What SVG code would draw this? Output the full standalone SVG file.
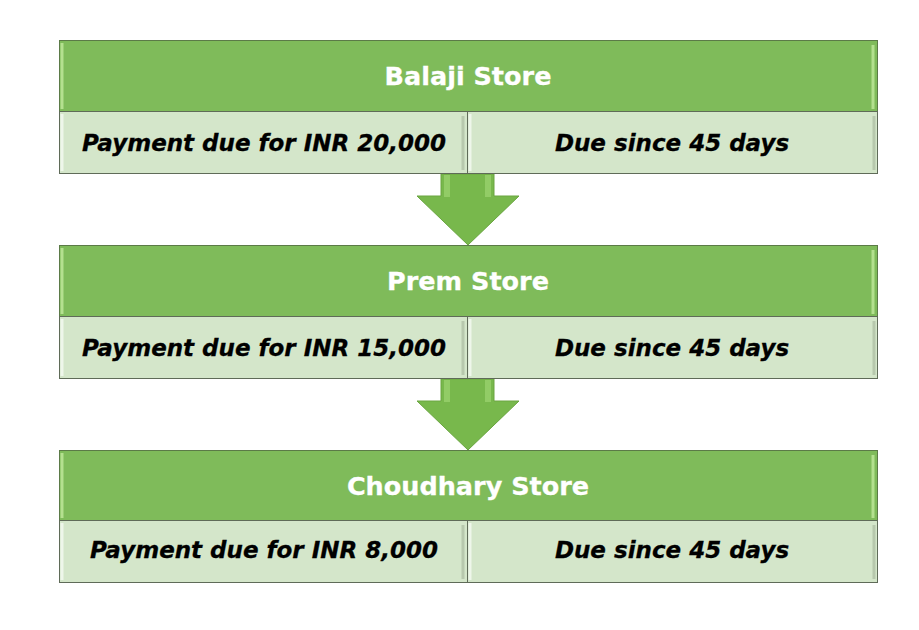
<svg xmlns="http://www.w3.org/2000/svg" width="919" height="630" viewBox="0 0 919 630">
<style>
.hdr{fill:#7fbb5a;stroke:#5b7a47;stroke-width:1}
.cell{fill:#d4e6ca;stroke:#5f6b58;stroke-width:1}
.hl{fill:none;stroke:#b4e08f;stroke-width:3}
.chl{fill:none;stroke:#eef6ea;stroke-width:3}
.csh{fill:none;stroke:#b7c8ad;stroke-width:3}
.ht{font-family:"DejaVu Sans",Verdana,sans-serif;font-weight:bold;font-size:25.5px;fill:#ffffff;stroke:#ffffff;stroke-width:0.3;text-anchor:middle}
.ct{font-family:"DejaVu Sans",Verdana,sans-serif;font-weight:bold;font-style:italic;font-size:23px;fill:#000000;stroke:#000000;stroke-width:0.3;text-anchor:middle}
.arr{fill:#78b84c;stroke:#6aa541;stroke-width:1}
.arrhl{fill:#92cc66}
</style>
<g id="connectors">
  <g id="arrow1">
    <path class="arr" d="M441,174 H494 V196 H519 L468,245 L417,196 H441 Z"/>
    <rect class="arrhl" x="444" y="175" width="6" height="22"/>
    <rect class="arrhl" x="485" y="175" width="6" height="22"/>
  </g>
  <g id="arrow2">
    <path class="arr" d="M441,379 H494 V401 H519 L468,450 L417,401 H441 Z"/>
    <rect class="arrhl" x="444" y="380" width="6" height="22"/>
    <rect class="arrhl" x="485" y="380" width="6" height="22"/>
  </g>
</g>
<g id="balaji">
  <rect class="hdr" x="59.5" y="40.5" width="818" height="71"/>
  <line class="hl" x1="62" y1="43" x2="62" y2="109"/>
  <line class="hl" x1="873" y1="45" x2="873" y2="109"/>
  <text class="ht" x="468" y="85">Balaji Store</text>
  <rect class="cell" x="59.5" y="111.5" width="408" height="62"/>
  <line class="chl" x1="62" y1="114" x2="62" y2="171"/>
  <line class="csh" x1="463" y1="116" x2="463" y2="170"/>
  <text class="ct" x="264" y="151">Payment due for INR 20,000</text>
  <rect class="cell" x="467.5" y="111.5" width="410" height="62"/>
  <line class="chl" x1="470" y1="114" x2="470" y2="171"/>
  <line class="csh" x1="874" y1="116" x2="874" y2="170"/>
  <text class="ct" x="672" y="151">Due since 45 days</text>
</g>
<g id="prem">
  <rect class="hdr" x="59.5" y="245.5" width="818" height="71"/>
  <line class="hl" x1="62" y1="248" x2="62" y2="314"/>
  <line class="hl" x1="873" y1="250" x2="873" y2="314"/>
  <text class="ht" x="468" y="290">Prem Store</text>
  <rect class="cell" x="59.5" y="316.5" width="408" height="62"/>
  <line class="chl" x1="62" y1="319" x2="62" y2="376"/>
  <line class="csh" x1="463" y1="321" x2="463" y2="375"/>
  <text class="ct" x="264" y="356">Payment due for INR 15,000</text>
  <rect class="cell" x="467.5" y="316.5" width="410" height="62"/>
  <line class="chl" x1="470" y1="319" x2="470" y2="376"/>
  <line class="csh" x1="874" y1="321" x2="874" y2="375"/>
  <text class="ct" x="672" y="356">Due since 45 days</text>
</g>
<g id="choudhary">
  <rect class="hdr" x="59.5" y="450.5" width="818" height="70"/>
  <line class="hl" x1="62" y1="453" x2="62" y2="518"/>
  <line class="hl" x1="873" y1="455" x2="873" y2="518"/>
  <text class="ht" x="468" y="495">Choudhary Store</text>
  <rect class="cell" x="59.5" y="520.5" width="408" height="62"/>
  <line class="chl" x1="62" y1="523" x2="62" y2="580"/>
  <line class="csh" x1="463" y1="525" x2="463" y2="579"/>
  <text class="ct" x="264" y="558">Payment due for INR 8,000</text>
  <rect class="cell" x="467.5" y="520.5" width="410" height="62"/>
  <line class="chl" x1="470" y1="523" x2="470" y2="580"/>
  <line class="csh" x1="874" y1="525" x2="874" y2="579"/>
  <text class="ct" x="672" y="558">Due since 45 days</text>
</g>
</svg>
